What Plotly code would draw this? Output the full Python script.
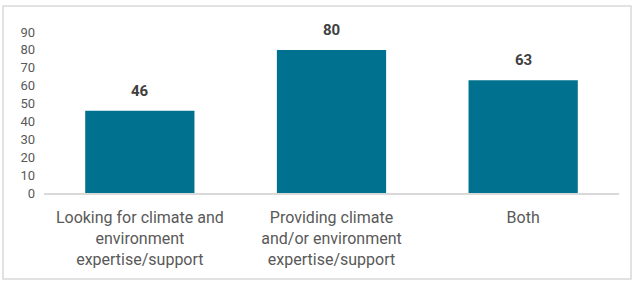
import plotly.graph_objects as go

categories = ["Looking for climate and<br>environment<br>expertise/support",
              "Providing climate<br>and/or environment<br>expertise/support",
              "Both"]
values = [46, 80, 63]
y_ticks = [0, 10, 20, 30, 40, 50, 60, 70, 80, 90]

W, H = 634, 282
ml, mr, mt, mb = 44, 15, 32, 89
pw, ph = W - ml - mr, H - mt - mb

fig = go.Figure(go.Bar(x=categories, y=values, marker_color="#00728F",
                       marker_line_width=0, hoverinfo="skip"))

for c, v in zip(categories, values):
    fig.add_annotation(x=c, y=v, text=f"<b>{v}</b>", showarrow=False,
                       yanchor="bottom", yshift=9,
                       font=dict(family="Roboto", size=15, color="#404040"))

# outer border
fig.add_shape(type="rect", xref="paper", yref="paper",
              x0=(3 - ml) / pw, x1=(631 - ml) / pw,
              y0=(H - mb - 279) / ph, y1=(H - mb - 6) / ph,
              line=dict(color="#D9D9D9", width=1.5), layer="below")

fig.update_layout(
    width=W, height=H, margin=dict(l=ml, r=mr, t=mt, b=mb),
    paper_bgcolor="white", plot_bgcolor="white",
    bargap=0.43, showlegend=False,
    font=dict(family="Roboto", color="#595959"),
)
fig.update_xaxes(showline=True, linecolor="#D9D9D9", linewidth=1.5,
                 showgrid=False, ticks="", tickfont=dict(size=16, color="#595959"),
                 ticklabelstandoff=9)
fig.update_yaxes(range=[0, 90], tickvals=y_ticks, showgrid=False, zeroline=False,
                 showline=False, ticks="", tickfont=dict(size=13, color="#595959"),
                 ticklabelstandoff=8)

fig.write_html("out.html", config={"displayModeBar": False},
               post_script="document.body.style.margin='0';document.body.style.overflow='hidden';")
